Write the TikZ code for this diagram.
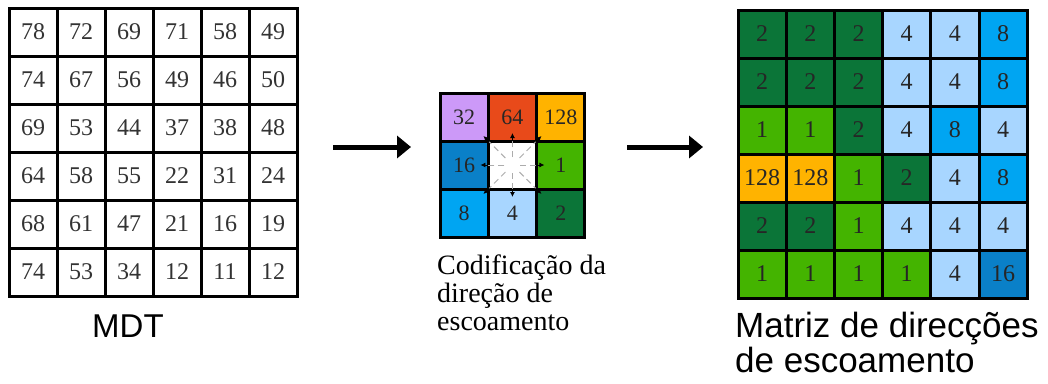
\documentclass[tikz,border=0pt]{standalone}
\usepackage{fontspec}
\setmainfont{Liberation Serif}
\newfontfamily\arialf{Liberation Sans}
\usetikzlibrary{arrows.meta,calc}
\definecolor{c1}{HTML}{44B400}
\definecolor{c2}{HTML}{0B7538}
\definecolor{c4}{HTML}{A8D6FF}
\definecolor{c8}{HTML}{00A5F2}
\definecolor{c16}{HTML}{0A80C8}
\definecolor{c32}{HTML}{CC99F8}
\definecolor{c64}{HTML}{E84A1A}
\definecolor{c128}{HTML}{FFB300}
\tikzset{
  gridcell/.style={draw=black, line width=3pt, inner sep=0pt, anchor=center},
  lcell/.style={gridcell, minimum width=48pt, minimum height=48pt, fill=white,
    text=black!80, font=\fontsize{24}{24}\selectfont},
  rcell/.style={gridcell, minimum width=48.2pt, minimum height=48pt,
    text=black!85, font=\fontsize{24}{24}\selectfont},
  mcell/.style={gridcell, minimum width=48.3pt, minimum height=48pt,
    text=black!85, font=\fontsize{22}{22}\selectfont},
  bigarrow/.style={line width=5pt, -{Triangle[length=14pt,width=22pt]}},
  ray/.style={gray!65, line width=1pt, dash pattern=on 6pt off 4pt},
  tip/.style={line width=0.9pt, -{Latex[length=5pt,width=5pt]}},
  sanslabel/.style={inner sep=0pt, anchor=base west, align=left, font=\arialf\fontsize{33}{35}\selectfont},
  seriflabel/.style={inner sep=0pt, anchor=base west, align=left, font=\fontsize{28}{28}\selectfont}
}
\begin{document}
\begin{tikzpicture}[x=1pt,y=-1pt]
\useasboundingbox (0,0) rectangle (1048,383);
\fill[white] (0,0) rectangle (1048,383);
% left grid (MDT)
\foreach \row [count=\r] in {{78,72,69,71,58,49},{74,67,56,49,46,50},{69,53,44,37,38,48},{64,58,55,22,31,24},{68,61,47,21,16,19},{74,53,34,12,11,12}}
  \foreach \v [count=\c] in \row
    \node[lcell] (L-\r-\c) at ({9+48*(\c-0.5)},{8+48*(\r-0.5)}) {\v};
% middle grid (coding)
\node[mcell, fill=c32]  (M-1-1) at ({440+48.3*0.5},{93+48*0.5}) {32};
\node[mcell, fill=c64]  (M-1-2) at ({440+48.3*1.5},{93+48*0.5}) {64};
\node[mcell, fill=c128] (M-1-3) at ({440+48.3*2.5},{93+48*0.5}) {128};
\node[mcell, fill=c16]  (M-2-1) at ({440+48.3*0.5},{93+48*1.5}) {16};
\node[mcell, fill=white](M-2-2) at ({440+48.3*1.5},{93+48*1.5}) {};
\node[mcell, fill=c1]   (M-2-3) at ({440+48.3*2.5},{93+48*1.5}) {1};
\node[mcell, fill=c8]   (M-3-1) at ({440+48.3*0.5},{93+48*2.5}) {8};
\node[mcell, fill=c4]   (M-3-2) at ({440+48.3*1.5},{93+48*2.5}) {4};
\node[mcell, fill=c2]   (M-3-3) at ({440+48.3*2.5},{93+48*2.5}) {2};
% rays in the centre cell
\foreach \a in {0,90,180,270} {
  \draw[ray] ($(M-2-2.center)+(\a:8)$) -- ($(M-2-2.center)+(\a:24)$);
  \draw[tip] ($(M-2-2.center)+(\a:24)$) -- ($(M-2-2.center)+(\a:32)$);
}
\foreach \a in {45,135,225,315} {
  \draw[ray] ($(M-2-2.center)+(\a:10)$) -- ($(M-2-2.center)+(\a:33)$);
  \draw[tip] ($(M-2-2.center)+(\a:33)$) -- ($(M-2-2.center)+(\a:41)$);
}
% right grid (result)
\foreach \row [count=\r] in {{2,2,2,4,4,8},{2,2,2,4,4,8},{1,1,2,4,8,4},{128,128,1,2,4,8},{2,2,1,4,4,4},{1,1,1,1,4,16}}
  \foreach \v [count=\c] in \row
    \node[rcell, fill=c\v] (R-\r-\c) at ({738+48.2*(\c-0.5)},{10+48*(\r-0.5)}) {\v};
% arrows
\coordinate (a1s) at (333,147);
\coordinate (a1e) at (411,147);
\coordinate (a2s) at (627,147);
\coordinate (a2e) at (703,147);
\draw[bigarrow] (a1s) -- (a1e);
\draw[bigarrow] (a2s) -- (a2e);
% labels
\node[sanslabel] (mdt) at (92,337) {MDT};
\node[seriflabel] (cod) at (437,330) {Codificação da\\direção de\\escoamento};
\node[sanslabel, font=\arialf\fontsize{35}{35}\selectfont] (mat) at (735,372) {Matriz de direcções\\de escoamento};
\end{tikzpicture}
\end{document}
